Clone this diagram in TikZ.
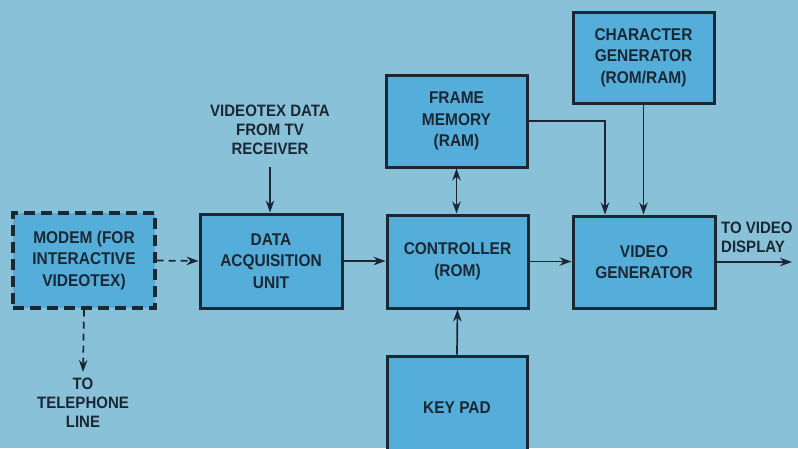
\documentclass[tikz,border=0pt]{standalone}
\usepackage{fontspec}
\setmainfont{Liberation Sans}[FakeStretch=0.91]
\usetikzlibrary{arrows.meta}
\definecolor{bgc}{HTML}{89C1D8}
\definecolor{boxc}{HTML}{55AEDA}
\definecolor{ink}{HTML}{1B2733}
\begin{document}
\begin{tikzpicture}[x=1pt,y=-1pt,
  blk/.style={draw=ink, line width=3pt, fill=boxc, inner sep=0pt, align=center,
    font=\bfseries\fontsize{17}{21.5}\selectfont, text=ink},
  dashblk/.style={blk, line width=3.2pt, dash pattern=on 11pt off 6pt},
  lbl/.style={align=center, inner sep=0pt, font=\bfseries\fontsize{16.5}{19}\selectfont, text=ink},
  conn/.style={draw=ink, line width=1.7pt, -{Stealth[length=12pt,width=8.5pt]}},
  dconn/.style={conn, dash pattern=on 7pt off 5pt},
  biconn/.style={draw=ink, line width=1.7pt, {Stealth[length=12pt,width=8.5pt]}-{Stealth[length=12pt,width=8.5pt]}}]
\useasboundingbox (0,0) rectangle (798,448);
\fill[bgc] (0,0) rectangle (798,448);
\begin{scope}
\clip (0,0) rectangle (798,448);
\node[dashblk, minimum width=142pt, minimum height=95pt] (modem) at (84,260.5) {MODEM (FOR\\INTERACTIVE\\VIDEOTEX)};
\node[blk, minimum width=142pt, minimum height=94pt] (data) at (271,261) {DATA\\ACQUISITION\\UNIT};
\node[blk, minimum width=141pt, minimum height=92pt] (frame) at (456.5,121) {FRAME\\MEMORY\\(RAM)};
\node[blk, minimum width=141pt, minimum height=93pt] (ctrl) at (457.5,261.5) {CONTROLLER\\(ROM)};
\node[blk, minimum width=140pt, minimum height=104pt] (keypad) at (457,408) {KEY PAD};
\node[blk, minimum width=141pt, minimum height=91pt] (char) at (643.5,57.5) {CHARACTER\\GENERATOR\\(ROM/RAM)};
\node[blk, minimum width=142pt, minimum height=92pt] (video) at (644,262) {VIDEO\\GENERATOR};

\node[lbl] (tel) at (83,403) {TO\\TELEPHONE\\LINE};
\node[lbl] (vtx) at (270,130) {VIDEOTEX DATA\\FROM TV\\RECEIVER};
\node[lbl, align=left, anchor=west] (disp) at (721,237) {TO VIDEO\\DISPLAY};

\coordinate (telend) at (83,372);
\coordinate (vtxstart) at (270,167);
\coordinate (outend) at (792,262);

\draw[dconn] (modem.south) -- (telend);
\draw[dconn] (modem.east) -- (data.west);
\draw[conn] (vtxstart) -- (vtxstart |- data.north);
\draw[conn] (data.east) -- (ctrl.west |- data.east);
\draw[biconn] (frame.south) -- (frame.south |- ctrl.north);
\draw[conn] (keypad.north) -- (ctrl.south);
\draw[conn] (ctrl.east) -- (video.west |- ctrl.east);
\draw[conn] (frame.east) -| ([xshift=-39pt]video.north);
\draw[conn] (char.south) -- (char.south |- video.north);
\draw[conn] (video.east) -- (outend);
\end{scope}
\end{tikzpicture}
\end{document}
